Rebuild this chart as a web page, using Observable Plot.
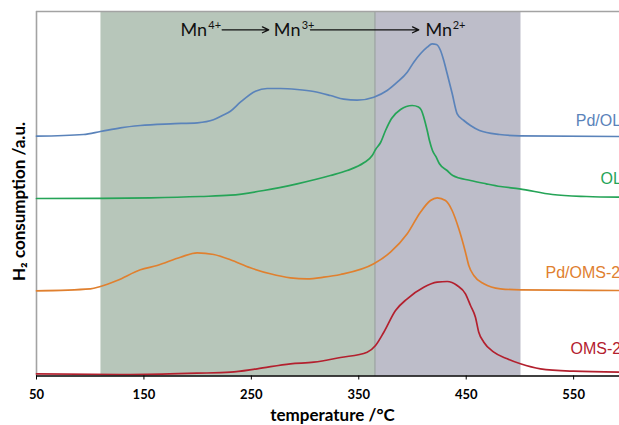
<!DOCTYPE html>
<html>
<head>
<meta charset="utf-8">
<script src="https://cdn.jsdelivr.net/npm/d3@7"></script>
<script src="https://cdn.jsdelivr.net/npm/@observablehq/plot@0.6"></script>
<style>
  html, body { margin: 0; padding: 0; background: #fff; }
  #chart { width: 619px; height: 425px; overflow: hidden; }
</style>
</head>
<body>
<div id="chart"></div>
<script>
// ---- data: [temperature °C, H2 consumption (a.u., offset stacked)] ----
const pdOL = [
  [50,239.8],[93.7,241.5],[109.5,244.5],[128.1,248.2],[146.7,250.5],[174.7,252.2],
  [199.8,253.2],[214.7,256.2],[223.1,260.5],[230.5,264.8],[239.8,273.8],[253.8,284.8],
  [264.7,287.5],[277.1,287.5],[292.6,286.5],[308.1,284.5],[323.6,280.5],[336,276.8],
  [348.5,275.8],[364,278.8],[376.4,285.5],[385.8,293.8],[395.1,303.8],[401.2,313.8],
  [407.4,322.2],[413.7,328.8],[418.3,332.2],[422.3,331.5],[426.1,325.5],[429.1,315.5],
  [432.3,302.2],[437,282.2],[441.6,262.2],[447.8,255.5],[454,250.5],[462.4,245.5],
  [481,241.5],[499.6,240.2],[592.7,239.5]
];
const ol = [
  [50,177.5],[109.5,177.7],[156.1,178.2],[202.6,179.5],[230.5,180.8],[261.5,185.5],
  [292.6,192.2],[323.6,200.5],[339.2,205.5],[354.7,213.2],[362.5,220.5],[365.6,226.5],
  [370.3,233.5],[374.9,245.5],[380.5,257.5],[388.9,266.5],[399.7,270.5],[405.6,269],
  [408.4,265.5],[410.5,258.8],[413.7,245.5],[415.8,235.5],[418.6,225.5],[422.1,218.8],
  [425.1,212.2],[432.2,205.5],[437.5,200.5],[454,195.5],[468.6,192.2],[481.9,189.5],
  [499.6,187.2],[530.3,181.5],[562,179.5],[592.7,178.8]
];
const pdOMS2 = [
  [50,85.2],[100.2,87.2],[109.5,89.5],[125,95.5],[146.7,106.2],[162.3,110.5],
  [184,118.8],[199.5,123.2],[215,121.5],[230.5,116.2],[249.1,108.2],[267.7,102.2],
  [286.4,98.2],[302,97.2],[317.4,98.8],[333,101.5],[364,112.2],[379.5,123.8],
  [395.1,142.2],[407.4,163.8],[416.7,175.5],[423,178.2],[430.7,175.5],[436.9,165.5],
  [443.1,147.2],[449.3,123.8],[452.4,110.5],[457.1,100.5],[466.4,92.2],[481.9,87.2],
  [500.5,86.2],[592.7,85.5]
];
const oms2 = [
  [50,2.2],[137.4,1.5],[199.5,2.8],[230.5,3.8],[255.4,7.2],[286.4,12.2],[308.1,13.8],
  [333,18.5],[357.8,23.8],[365.6,30.5],[373.3,43.8],[384.2,65.5],[395.1,77.2],
  [410.5,88.8],[423,93.8],[432.3,94.5],[441.6,90.5],[449.3,82.2],[454,70.5],
  [458.6,58.8],[461.7,43.8],[466.4,33.8],[475.7,23.8],[488.2,17.2],[500.5,12.2],
  [519.1,7.2],[549.9,4.8],[592.7,3.8]
];

const seriesNames = ["Pd/OL", "OL", "Pd/OMS-2", "OMS-2"];
const seriesData = [pdOL, ol, pdOMS2, oms2];
const seriesColors = ["#5a83ba", "#25a457", "#e0802f", "#b3202e"];
// label anchor (start of text, baseline) in data coords
const labelT = [552, 575, 523.8, 547.1];
const labelV = [250.5, 192.2, 97.8, 22.2];

// shaded regions (°C)
const regionStart = [110, 365];
const regionEnd = [365, 501];
const regionFill = ["#b7c6ba", "#bdbdc9"];
const dividerT = [365];

// Mn annotations
const mnText = ["Mn", "Mn", "Mn"];
const mnT = [184, 270.9, 412.1];
const mnV = [340.5, 340.5, 340.5];
const supText = ["4+", "3+", "2+"];
const supT = [209.9, 296.8, 437.4];
const supV = [347.5, 347.5, 347.5];
const arrowT1 = [222.8, 305];
const arrowT2 = [266.2, 405.9];
const arrowV = [346.2, 346.2];

const xTicks = [50, 150, 250, 350, 450, 550];
const xDomain = [50, 592.7];
const yDomain = [0, 364.5];
const xLabel = "temperature /°C";
const yLabel = "H\u2082 consumption /a.u.";
const yLabelV = 174.5; // vertical centre of the y title, data units

// ---- build tables ----
const rows = seriesNames.flatMap((name, i) => seriesData[i].map(([t, v]) => ({series: name, t, v})));
const labels = seriesNames.map((name, i) => ({series: name, t: labelT[i], v: labelV[i]}));
const regions = regionStart.map((s, i) => ({x1: s, x2: regionEnd[i], fill: regionFill[i]}));
const mn = mnText.map((s, i) => ({text: s, t: mnT[i], v: mnV[i]}));
const sup = supText.map((s, i) => ({text: s, t: supT[i], v: supV[i]}));
const arrows = arrowT1.map((a, i) => ({x1: a, x2: arrowT2[i], v: arrowV[i]}));

const chart = Plot.plot({
  width: 619,
  height: 425,
  marginLeft: 36,
  marginRight: 0,
  marginTop: 11,
  marginBottom: 49.5,
  style: {fontFamily: "Lato, 'Open Sans', sans-serif", background: "#fff"},
  x: {domain: xDomain, axis: null},
  y: {domain: yDomain, axis: null},
  color: {domain: seriesNames, range: seriesColors},
  marks: [
    Plot.rect(regions, {x1: "x1", x2: "x2", fill: d => d.fill}),
    Plot.ruleX(dividerT, {stroke: "#8d998f", strokeWidth: 1}),
    Plot.ruleX([xDomain[0]], {stroke: "#a3a3a3", strokeWidth: 1.6}),
    Plot.ruleY([yDomain[1]], {stroke: "#a3a3a3", strokeWidth: 1.6}),
    Plot.line(rows, {x: "t", y: "v", z: "series", stroke: "series", strokeWidth: 1.7, curve: "monotone-x"}),
    Plot.text(labels, {x: "t", y: "v", text: "series", fill: "series", textAnchor: "start", lineAnchor: "bottom",
      fontSize: 16, fontFamily: "'Liberation Sans', Arial, sans-serif"}),
    Plot.text(mn, {x: "t", y: "v", text: "text", textAnchor: "start", lineAnchor: "bottom", fontSize: 18, fill: "#111"}),
    Plot.text(sup, {x: "t", y: "v", text: "text", textAnchor: "start", lineAnchor: "bottom", fontSize: 11, fill: "#111"}),
    Plot.arrow(arrows, {x1: "x1", x2: "x2", y1: "v", y2: "v", stroke: "#111", strokeWidth: 1.3, headLength: 8, headAngle: 50}),
    Plot.ruleY([yDomain[0]], {stroke: "#000", strokeWidth: 1.6}),
    Plot.axisX({ticks: xTicks, tickSize: 4, tickPadding: 10, tickFormat: d => String(d), label: null,
      fontSize: 13, fontWeight: "bold", stroke: "#000", fill: "#000"}),
    Plot.text([xLabel], {text: d => d, frameAnchor: "bottom", lineAnchor: "bottom", dy: 44.5, dx: 4.5,
      fontSize: 17, fontWeight: "bold", fill: "#000"}),
    Plot.text([yLabel], {text: d => d, x: () => xDomain[0], y: () => yLabelV, rotate: -90, dx: -17.3,
      fontSize: 17, fontWeight: "bold", fill: "#000"})
  ]
});
document.getElementById("chart").appendChild(chart);
</script>
</body>
</html>
